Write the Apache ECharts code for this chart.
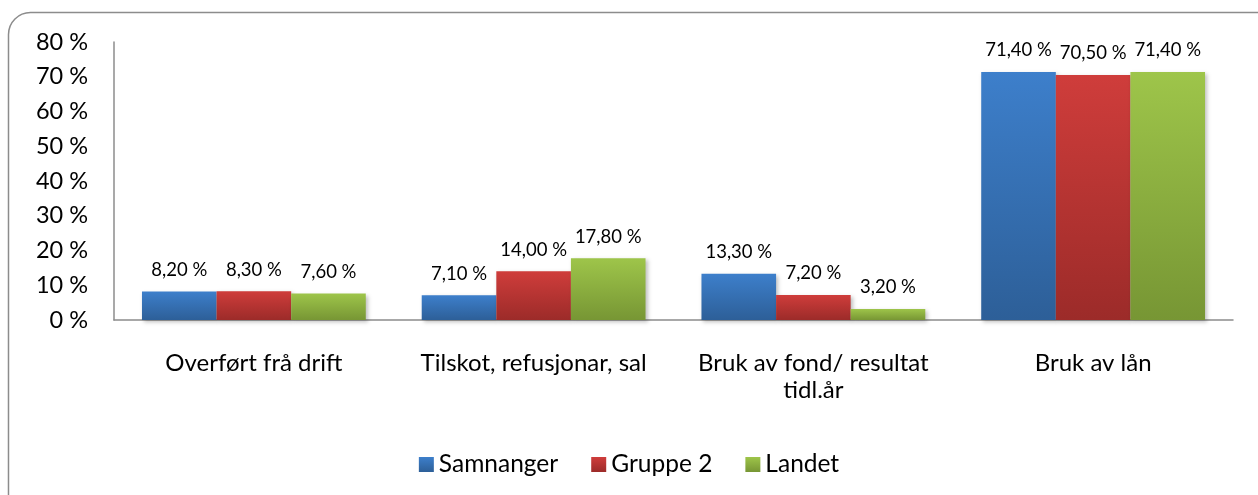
<!DOCTYPE html>
<html>
<head>
<meta charset="utf-8">
<script src="https://cdn.jsdelivr.net/npm/echarts@6/dist/echarts.min.js"></script>
<style>
  html, body { margin: 0; padding: 0; background: #fff; }
  #chart { width: 1258px; height: 495px; }
</style>
</head>
<body>
<div id="chart"></div>
<script>
// data
const categories = ["Overført frå drift", "Tilskot, refusjonar, sal", "Bruk av fond/ resultat\ntidl.år", "Bruk av lån"];
const samnanger = [8.2, 7.1, 13.3, 71.4];
const gruppe2 = [8.3, 14.0, 7.2, 70.5];
const landet = [7.6, 17.8, 3.2, 71.4];

const font = "Lato, 'Open Sans', sans-serif";

const grad = (top, bottom) =>
  new echarts.graphic.LinearGradient(0, 0, 0, 1, [
    { offset: 0, color: top },
    { offset: 1, color: bottom },
  ]);

const pct = (v) => v.toFixed(2).replace(".", ",") + " %";

const mkSeries = (name, data, top, bottom) => ({
  name: name,
  type: "bar",
  data: data,
  barGap: "0%",
  barCategoryGap: "20%",
  itemStyle: {
    color: grad(top, bottom),
    shadowColor: "rgba(0,0,0,0.25)",
    shadowBlur: 4,
    shadowOffsetX: 2,
    shadowOffsetY: 2,
  },
  label: {
    show: true,
    position: "top",
    distance: 12,
    fontFamily: font,
    fontSize: 18.5,
    color: "#000",
    formatter: (p) => pct(p.value),
  },
});

const chart = echarts.init(document.getElementById("chart"));
const option = {
  animation: false,
  graphic: [
    {
      type: "rect",
      shape: { x: 8.5, y: 12.5, width: 1290, height: 520, r: 22 },
      style: { fill: "none", stroke: "#8c8c8c", lineWidth: 1.5 },
      silent: true,
    },
  ],
  grid: { left: 114, right: 25, top: 42, bottom: 175 },
  legend: {
    top: 447,
    left: "center",
    itemWidth: 15,
    itemHeight: 15,
    itemGap: 33,
    icon: "rect",
    textStyle: { fontFamily: font, fontSize: 24.5, color: "#000" },
    data: ["Samnanger", "Gruppe 2", "Landet"],
  },
  xAxis: {
    type: "category",
    data: categories,
    axisLine: { lineStyle: { color: "#8c8c8c", width: 1.5 } },
    axisTick: { show: false },
    axisLabel: {
      margin: 30,
      fontFamily: font,
      fontSize: 24,
      lineHeight: 27,
      color: "#000",
      interval: 0,
    },
  },
  yAxis: {
    type: "value",
    min: 0,
    max: 80,
    interval: 10,
    splitLine: { show: false },
    axisLine: { show: true, lineStyle: { color: "#8c8c8c", width: 1.5 } },
    axisTick: { show: false },
    axisLabel: {
      margin: 26,
      fontFamily: font,
      fontSize: 23.5,
      color: "#000",
      formatter: (v) => v + " %",
    },
  },
  series: [
    mkSeries("Samnanger", samnanger, "#3d7fcb", "#2d5f98"),
    mkSeries("Gruppe 2", gruppe2, "#cf3d3b", "#9c2b29"),
    mkSeries("Landet", landet, "#9ec54a", "#779634"),
  ],
};
chart.setOption(option);
</script>
</body>
</html>
